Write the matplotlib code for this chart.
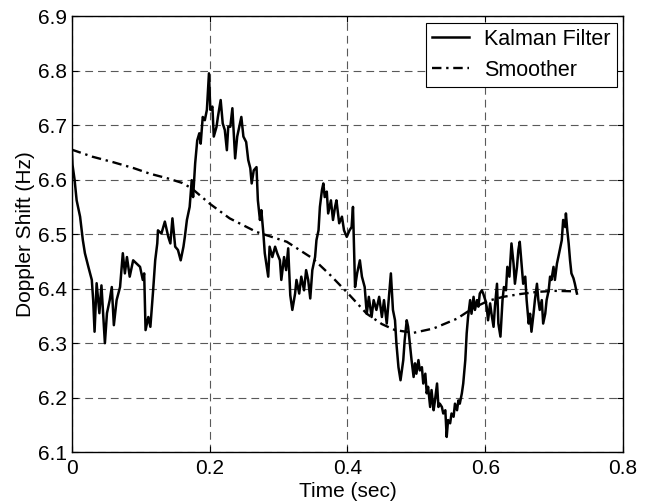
import matplotlib
matplotlib.use('Agg')
import matplotlib.pyplot as plt

plt.rcParams['font.family'] = ['Liberation Sans', 'DejaVu Sans']
plt.rcParams['font.size'] = 15

# Kalman filter estimate
kf_t = [0.0, 0.001, 0.004, 0.007, 0.009, 0.012, 0.016, 0.019, 0.024, 0.029,
        0.031, 0.033, 0.036, 0.040, 0.043, 0.048, 0.051, 0.055, 0.058, 0.061,
        0.065, 0.070, 0.074, 0.077, 0.080, 0.084, 0.089, 0.094, 0.099, 0.103,
        0.105, 0.107, 0.111, 0.114, 0.118, 0.121, 0.124, 0.125, 0.130, 0.135,
        0.140, 0.143, 0.146, 0.150, 0.154, 0.158, 0.162, 0.164, 0.167, 0.171,
        0.174, 0.176, 0.179, 0.182, 0.185, 0.187, 0.190, 0.193, 0.196, 0.199,
        0.201, 0.204, 0.206, 0.210, 0.212, 0.216, 0.219, 0.222, 0.225, 0.227,
        0.230, 0.233, 0.237, 0.240, 0.243, 0.246, 0.249, 0.253, 0.256, 0.259,
        0.261, 0.264, 0.268, 0.270, 0.273, 0.275, 0.278, 0.280, 0.283, 0.285,
        0.287, 0.291, 0.295, 0.298, 0.302, 0.304, 0.308, 0.311, 0.314, 0.317,
        0.320, 0.324, 0.326, 0.330, 0.333, 0.337, 0.340, 0.343, 0.346, 0.349,
        0.353, 0.355, 0.358, 0.360, 0.363, 0.365, 0.367, 0.370, 0.372, 0.376,
        0.379, 0.382, 0.384, 0.388, 0.392, 0.395, 0.399, 0.403, 0.406, 0.408,
        0.411, 0.414, 0.418, 0.421, 0.425, 0.428, 0.431, 0.435, 0.438, 0.442,
        0.446, 0.450, 0.453, 0.457, 0.461, 0.463, 0.466, 0.469, 0.471, 0.474,
        0.477, 0.481, 0.483, 0.486, 0.488, 0.491, 0.493, 0.496, 0.498, 0.500,
        0.503, 0.505, 0.508, 0.510, 0.513, 0.515, 0.517, 0.520, 0.522, 0.525,
        0.527, 0.530, 0.532, 0.534, 0.537, 0.539, 0.542, 0.544, 0.546, 0.549,
        0.551, 0.554, 0.556, 0.559, 0.561, 0.563, 0.566, 0.568, 0.571, 0.573,
        0.575, 0.578, 0.580, 0.583, 0.585, 0.588, 0.590, 0.592, 0.595, 0.597,
        0.600, 0.602, 0.604, 0.607, 0.609, 0.612, 0.614, 0.617, 0.619, 0.622,
        0.625, 0.627, 0.630, 0.632, 0.635, 0.638, 0.641, 0.643, 0.646, 0.648,
        0.650, 0.653, 0.655, 0.658, 0.660, 0.663, 0.665, 0.667, 0.670, 0.672,
        0.675, 0.677, 0.679, 0.682, 0.684, 0.687, 0.689, 0.692, 0.694, 0.696,
        0.699, 0.701, 0.704, 0.706, 0.709, 0.711, 0.713, 0.716, 0.717, 0.719,
        0.721, 0.723, 0.725, 0.728, 0.730, 0.733]
kf_v = [6.655, 6.627, 6.600, 6.562, 6.550, 6.532, 6.489, 6.465, 6.440, 6.416,
        6.379, 6.321, 6.410, 6.355, 6.406, 6.300, 6.355, 6.379, 6.403, 6.333,
        6.379, 6.403, 6.465, 6.428, 6.458, 6.422, 6.452, 6.446, 6.440, 6.416,
        6.428, 6.324, 6.348, 6.330, 6.397, 6.452, 6.483, 6.507, 6.501, 6.523,
        6.495, 6.483, 6.529, 6.477, 6.471, 6.452, 6.477, 6.495, 6.526, 6.550,
        6.599, 6.568, 6.630, 6.672, 6.685, 6.666, 6.715, 6.709, 6.728, 6.795,
        6.728, 6.734, 6.679, 6.697, 6.715, 6.746, 6.703, 6.691, 6.654, 6.697,
        6.697, 6.731, 6.639, 6.679, 6.697, 6.715, 6.679, 6.669, 6.636, 6.621,
        6.593, 6.617, 6.623, 6.562, 6.526, 6.544, 6.501, 6.465, 6.440, 6.422,
        6.477, 6.458, 6.477, 6.465, 6.452, 6.416, 6.458, 6.434, 6.474, 6.388,
        6.361, 6.391, 6.416, 6.391, 6.422, 6.397, 6.434, 6.416, 6.382, 6.434,
        6.458, 6.489, 6.507, 6.550, 6.581, 6.593, 6.568, 6.578, 6.538, 6.562,
        6.526, 6.550, 6.562, 6.520, 6.532, 6.507, 6.495, 6.507, 6.513, 6.550,
        6.403, 6.428, 6.452, 6.422, 6.403, 6.354, 6.385, 6.348, 6.379, 6.361,
        6.385, 6.348, 6.379, 6.336, 6.397, 6.428, 6.361, 6.342, 6.300, 6.256,
        6.232, 6.269, 6.305, 6.342, 6.330, 6.293, 6.269, 6.238, 6.263, 6.244,
        6.269, 6.250, 6.256, 6.226, 6.244, 6.208, 6.220, 6.183, 6.214, 6.177,
        6.195, 6.226, 6.183, 6.189, 6.183, 6.171, 6.177, 6.128, 6.159, 6.153,
        6.171, 6.165, 6.189, 6.177, 6.195, 6.189, 6.208, 6.226, 6.269, 6.318,
        6.348, 6.379, 6.354, 6.385, 6.361, 6.379, 6.367, 6.391, 6.397, 6.391,
        6.379, 6.367, 6.342, 6.373, 6.354, 6.330, 6.367, 6.409, 6.336, 6.312,
        6.379, 6.403, 6.397, 6.440, 6.422, 6.483, 6.446, 6.409, 6.440, 6.471,
        6.486, 6.440, 6.409, 6.422, 6.379, 6.336, 6.354, 6.321, 6.354, 6.379,
        6.409, 6.379, 6.361, 6.379, 6.336, 6.354, 6.379, 6.397, 6.422, 6.416,
        6.440, 6.416, 6.446, 6.458, 6.477, 6.489, 6.526, 6.513, 6.538, 6.507,
        6.483, 6.452, 6.428, 6.419, 6.409, 6.391]

# smoother estimate
sm_t = [0.0, 0.03, 0.06, 0.09, 0.113, 0.14, 0.16, 0.174, 0.2, 0.229, 0.268,
        0.312, 0.35, 0.375, 0.401, 0.428, 0.45, 0.469, 0.496, 0.525, 0.559,
        0.583, 0.605, 0.626, 0.65, 0.675, 0.70, 0.733]
sm_v = [6.655, 6.642, 6.632, 6.621, 6.611, 6.602, 6.594, 6.584, 6.556, 6.529,
        6.504, 6.486, 6.455, 6.425, 6.391, 6.354, 6.335, 6.324, 6.319, 6.327,
        6.345, 6.365, 6.378, 6.385, 6.390, 6.394, 6.396, 6.395]

xticks = [0, 0.2, 0.4, 0.6, 0.8]
xticklabels = ['0', '0.2', '0.4', '0.6', '0.8']
yticks = [6.1, 6.2, 6.3, 6.4, 6.5, 6.6, 6.7, 6.8, 6.9]

fig = plt.figure(figsize=(6.65, 5.03), dpi=100)
ax = fig.add_axes([0.108, 0.101, 0.829, 0.867])

ax.plot(kf_t, kf_v, color='black', lw=1.8, label='Kalman Filter')
ax.plot(sm_t, sm_v, color='black', lw=1.7, linestyle=(0, (4, 2, 1, 2)), label='Smoother')

ax.set_xlim(0, 0.8)
ax.set_ylim(6.1, 6.9)
ax.set_xticks(xticks)
ax.set_xticklabels(xticklabels)
ax.set_yticks(yticks)
ax.grid(True, color='0.35', linestyle=(0, (7, 4.5)), lw=0.8)
ax.tick_params(direction='in', top=True, right=True, length=4)
ax.tick_params(axis='x', pad=5)
for s in ax.spines.values():
    s.set_linewidth(1.0)

ax.set_xlabel('Time (sec)', labelpad=3)
ax.set_ylabel('Doppler Shift (Hz)', labelpad=2)

leg = ax.legend(loc='upper right', fancybox=False, framealpha=1, edgecolor='black',
                handlelength=1.7, borderaxespad=0.3, borderpad=0.3, labelspacing=0.45,
                handletextpad=0.7, prop={'size': 15.5})
leg.get_frame().set_linewidth(0.8)

fig.savefig('out.png', dpi=100)
